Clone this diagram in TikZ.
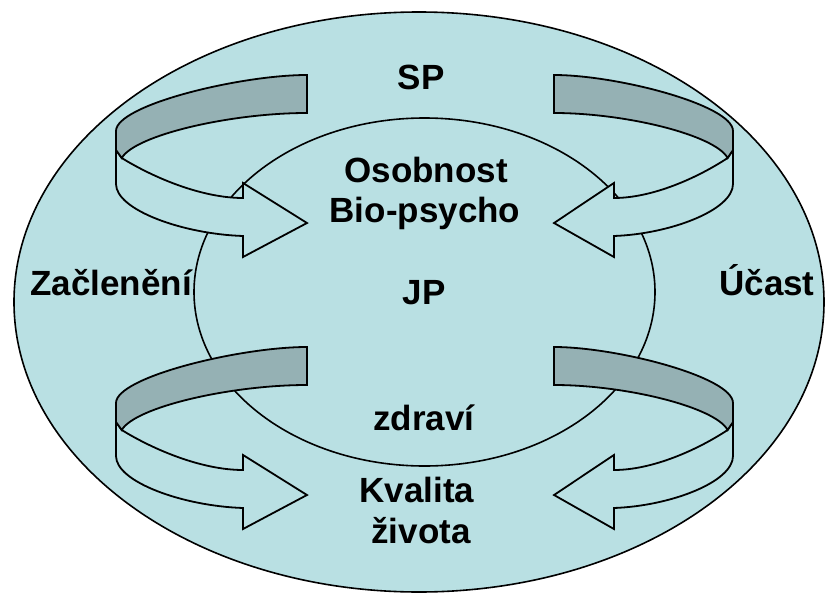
\documentclass[tikz,border=0pt]{standalone}
\usepackage{fontspec}
\setmainfont{Liberation Sans}
\definecolor{bgblue}{HTML}{B9E0E3}
\definecolor{bandgray}{HTML}{95B1B4}
\newcommand\curlarrow[3]{%
  \begin{scope}[shift={(#1,#3)}, xscale=#2]
    % front (light) part of the ribbon with the head
    \draw[arrowline, fill=bgblue]
      (0.97,158) .. controls (0.8,178) and (0.55,198) .. (0.335,198)
      -- (0.335,183) -- (0,223) -- (0.335,257) -- (0.335,236)
      .. controls (0.65,234) and (1,210) .. (1,184)
      -- (1,150) -- cycle;
    % back (gray) part of the ribbon
    \draw[arrowline, fill=bandgray]
      (0,75) .. controls (0.35,75) and (1,105) .. (1,131)
      -- (1,150) -- (0.97,158)
      .. controls (0.9,135) and (0.4,113) .. (0,113) -- cycle;
  \end{scope}}
\begin{document}
\begin{tikzpicture}[x=1pt,y=-1pt,
  arrowline/.style={line width=1.8pt, line join=miter},
  lbl/.style={font=\fontsize{35}{40}\selectfont\bfseries, anchor=base, inner sep=0pt}]
\useasboundingbox (0,0) rectangle (825,597);
\fill[white] (0,0) rectangle (825,597);
\draw[line width=1.6pt, fill=bgblue] (419,302) ellipse [x radius=405, y radius=290];
\draw[line width=1.6pt] (424.5,292) ellipse [x radius=230.5, y radius=174];
\curlarrow{307}{-191}{0}
\curlarrow{554}{179}{0}
\curlarrow{307}{-191}{272}
\curlarrow{554}{179}{272}
\node[lbl] (sp) at (421,89) {SP};
\node[lbl] (osob) at (426,182) {Osobnost};
\node[lbl] (bio) at (425,222) {Bio-psycho};
\node[lbl] (jp) at (424,304) {JP};
\node[lbl] (zac) at (111,295) {Začlenění};
\node[lbl] (ucast) at (767,295) {Účast};
\node[lbl] (zdravi) at (424,430) {zdraví};
\node[lbl] (kval) at (417,502) {Kvalita};
\node[lbl] (ziv) at (421,543) {života};
\end{tikzpicture}
\end{document}
